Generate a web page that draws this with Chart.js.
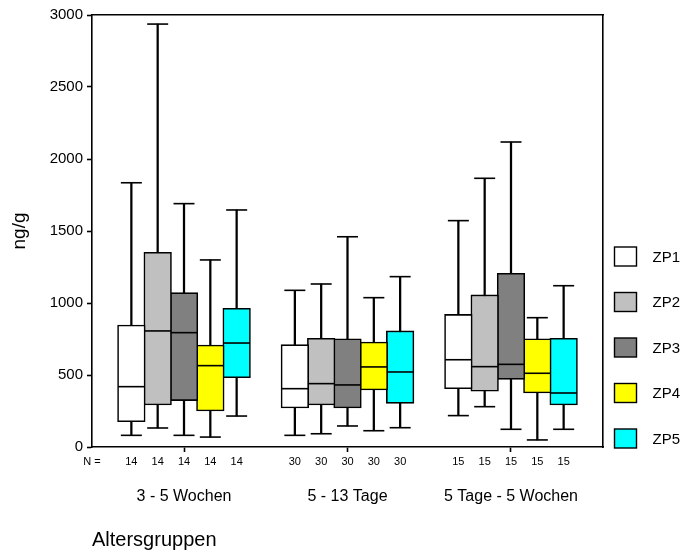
<!DOCTYPE html>
<html><head><meta charset="utf-8">
<script src="https://cdn.jsdelivr.net/npm/chart.js@4.4.0/dist/chart.umd.min.js"></script>
<style>html,body{margin:0;padding:0;background:#fff}#wrap{width:683px;height:552px;position:relative}</style>
</head><body><div id="wrap"><canvas id="c" width="683" height="552"></canvas></div>
<script>
// ---- data ----
const groups = ["3 - 5 Wochen", "5 - 13 Tage", "5 Tage - 5 Wochen"];
const groupN = [14, 30, 15];
const seriesNames = ["ZP1", "ZP2", "ZP3", "ZP4", "ZP5"];
const yTickValues = [0, 500, 1000, 1500, 2000, 2500, 3000];
// per series, one value per group
const zp1Min = [81, 81, 218];
const zp1Q1  = [176, 271, 405];
const zp1Med = [419, 405, 606];
const zp1Q3  = [847, 711, 921];
const zp1Max = [1835, 1088, 1572];
const zp2Min = [132, 92, 280];
const zp2Q1  = [292, 292, 387];
const zp2Med = [806, 440, 558];
const zp2Q3  = [1352, 755, 1056];
const zp2Max = [2937, 1132, 1866];
const zp3Min = [81, 146, 123];
const zp3Q1  = [322, 271, 470];
const zp3Med = [794, 431, 574];
const zp3Q3  = [1072, 752, 1206];
const zp3Max = [1690, 1460, 2118];
const zp4Min = [69, 113, 49];
const zp4Q1  = [250, 396, 375];
const zp4Med = [565, 556, 512];
const zp4Q3  = [708, 729, 752];
const zp4Max = [1299, 1037, 898];
const zp5Min = [215, 134, 123];
const zp5Q1  = [481, 303, 292];
const zp5Med = [722, 521, 375];
const zp5Q3  = [963, 806, 755];
const zp5Max = [1646, 1183, 1120];

// ---- styles / layout ----
const colors = ["#ffffff", "#c0c0c0", "#808080", "#ffff00", "#00ffff"];
const FONT = '"Liberation Sans", Arial, sans-serif';
const BOX_STEP = 0.161;
const X_MIN = -0.5627, X_MAX = 2.5627;
const LW = 1.6;

const series = [
  {min: zp1Min, q1: zp1Q1, med: zp1Med, q3: zp1Q3, max: zp1Max},
  {min: zp2Min, q1: zp2Q1, med: zp2Med, q3: zp2Q3, max: zp2Max},
  {min: zp3Min, q1: zp3Q1, med: zp3Med, q3: zp3Q3, max: zp3Max},
  {min: zp4Min, q1: zp4Q1, med: zp4Med, q3: zp4Q3, max: zp4Max},
  {min: zp5Min, q1: zp5Q1, med: zp5Med, q3: zp5Q3, max: zp5Max}
];
const xPos = (g, s) => g + (s - 2) * BOX_STEP;

const whiskerData = [], capData = [], medData = [];
series.forEach((sr, s) => {
  groups.forEach((_, g) => {
    const x = xPos(g, s);
    whiskerData.push({x, y: [sr.min[g], sr.max[g]]});
    capData.push({x, y: sr.min[g]}, {x, y: sr.max[g]});
    medData.push({x, y: sr.med[g]});
  });
});

const boxSets = series.map((sr, s) => ({
  type: 'bar', label: seriesNames[s], order: 2,
  data: groups.map((_, g) => ({x: xPos(g, s), y: [sr.q1[g], sr.q3[g]]})),
  backgroundColor: colors[s], borderColor: '#000', borderWidth: LW,
  borderSkipped: false, grouped: false, barThickness: 27.6
}));

const tickPositions = [];
groups.forEach((_, g) => seriesNames.forEach((__, s) => tickPositions.push(xPos(g, s))));

const legendPlugin = {
  id: 'sideLegend',
  afterDraw(chart) {
    const {ctx, chartArea} = chart;
    ctx.save();
    seriesNames.forEach((name, i) => {
      const x = chartArea.right + 11.5, yc = 256.5 + i * 45.5;
      ctx.fillStyle = colors[i];
      ctx.fillRect(x, yc - 9.5, 22, 19);
      ctx.strokeStyle = '#000'; ctx.lineWidth = 1.4;
      ctx.strokeRect(x, yc - 9.5, 22, 19);
      ctx.fillStyle = '#000';
      ctx.font = '15px ' + FONT;
      ctx.textBaseline = 'middle'; ctx.textAlign = 'left';
      ctx.fillText(name, x + 38, yc + 1);
    });
    ctx.restore();
  }
};

new Chart(document.getElementById('c'), {
  type: 'bar',
  data: {
    datasets: [
      {type: 'bar', label: 'whiskers', order: 3, data: whiskerData, backgroundColor: '#000',
       borderWidth: 0, grouped: false, barThickness: LW},
      ...boxSets,
      {type: 'scatter', label: 'caps', order: 1, data: capData, pointStyle: 'line',
       radius: 10.5, borderColor: '#000', borderWidth: LW, backgroundColor: '#000'},
      {type: 'scatter', label: 'medians', order: 0, data: medData, pointStyle: 'line',
       radius: 13.3, borderColor: '#000', borderWidth: LW, backgroundColor: '#000'}
    ]
  },
  options: {
    responsive: false, animation: false, events: [],
    layout: {padding: {left: 0, right: 80, top: 15, bottom: 0}},
    plugins: {legend: {display: false}, tooltip: {enabled: false}},
    scales: {
      x: {
        type: 'linear', position: 'bottom', weight: 1, min: X_MIN, max: X_MAX, offset: false,
        afterBuildTicks: sc => { sc.ticks = [{value: X_MIN}, ...tickPositions.map(v => ({value: v}))]; },
        afterFit: sc => { sc.height = 25; },
        ticks: {
          autoSkip: false, maxRotation: 0, minRotation: 0, padding: 3, color: '#000',
          font: {family: FONT, size: 11},
          callback: (v, i) => i === 0 ? 'N =' : String(groupN[Math.floor((i - 1) / seriesNames.length)])
        },
        grid: {display: true, drawOnChartArea: false, offset: false, drawTicks: true, tickLength: 5,
               tickWidth: LW,
               tickColor: ctx => (ctx.tick && ctx.tick.value !== X_MIN &&
                 Math.abs(ctx.tick.value - Math.round(ctx.tick.value)) < 1e-6) ? '#000' : 'rgba(0,0,0,0)'},
        border: {display: true, color: '#000', width: LW}
      },
      xg: {
        type: 'linear', position: 'bottom', weight: 2, min: X_MIN, max: X_MAX, offset: false,
        afterBuildTicks: sc => { sc.ticks = groups.map((_, g) => ({value: g})); },
        afterFit: sc => { sc.height = 80; },
        ticks: {autoSkip: false, maxRotation: 0, minRotation: 0, padding: 7, color: '#000',
                font: {family: FONT, size: 16}, callback: (v, i) => groups[i]},
        grid: {display: false, offset: false},
        border: {display: false},
        title: {display: true, text: 'Altersgruppen', align: 'start', color: '#000',
                font: {family: FONT, size: 20}, padding: {top: 0, bottom: 0}}
      },
      xt: {
        type: 'linear', position: 'top', min: X_MIN, max: X_MAX, offset: false,
        afterFit: sc => { sc.height = 0; },
        ticks: {display: false}, grid: {display: false, offset: false},
        border: {display: true, color: '#000', width: LW}
      },
      y: {
        type: 'linear', position: 'left', min: 0, max: 3000, stacked: false,
        afterBuildTicks: sc => { sc.ticks = yTickValues.map(v => ({value: v})); },
        afterFit: sc => { sc.width = 92; },
        ticks: {color: '#000', padding: 4, font: {family: FONT, size: 15},
                callback: v => String(v)},
        grid: {display: true, drawOnChartArea: false, drawTicks: true, tickLength: 5,
               tickWidth: LW, tickColor: '#000'},
        border: {display: true, color: '#000', width: LW},
        title: {display: true, text: 'ng/g', color: '#000', font: {family: FONT, size: 19},
                padding: {top: 8, bottom: 0}}
      },
      yr: {
        type: 'linear', position: 'right', min: 0, max: 3000,
        afterFit: sc => { sc.width = 0; },
        ticks: {display: false}, grid: {display: false},
        border: {display: true, color: '#000', width: LW}
      }
    }
  },
  plugins: [legendPlugin]
});
</script>
</body></html>
